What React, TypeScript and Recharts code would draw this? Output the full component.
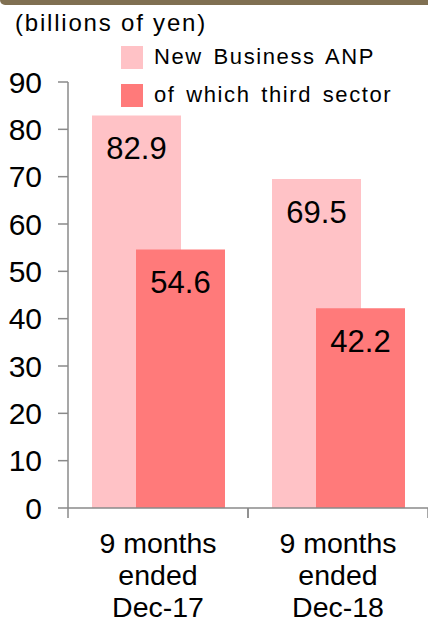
import { BarChart, Bar, XAxis, YAxis, Legend, LabelList } from 'recharts';

const periods = ['9 months\nended\nDec-17', '9 months\nended\nDec-18'];
const newBusinessAnp = [82.9, 69.5];
const thirdSector = [54.6, 42.2];
const yTicks = [0, 10, 20, 30, 40, 50, 60, 70, 80, 90];

const seriesNames = ['New Business ANP', 'of which third sector'];
const seriesColors = ['#ffc2c6', '#ff7a7a'];

const data = periods.map((period, i) => ({
  period,
  anp: newBusinessAnp[i],
  third: thirdSector[i],
}));

const FONT = '"Liberation Sans", Arial, sans-serif';
const AXIS = '#8a8a8a';

function CategoryTick(props: any) {
  const { x, y, payload } = props;
  const half = 90;
  const lines = String(payload.value).split('\n');
  return (
    <g>
      <line x1={x - half} y1={y - 8} x2={x - half} y2={y + 2} stroke={AXIS} strokeWidth={1.5} />
      <line x1={x + half} y1={y - 8} x2={x + half} y2={y + 2} stroke={AXIS} strokeWidth={1.5} />
      <text x={x} y={y} textAnchor="middle" fontSize={28.5} fontFamily={FONT} fill="#000">
        {lines.map((line, i) => (
          <tspan key={i} x={x} dy={i === 0 ? 37 : 32}>
            {line}
          </tspan>
        ))}
      </text>
    </g>
  );
}

function BarValue(props: any) {
  const { x, y, width, value } = props;
  return (
    <text
      x={x + width / 2}
      y={y + 33}
      textAnchor="middle"
      dominantBaseline="central"
      fontSize={31}
      fontFamily={FONT}
      fill="#000"
    >
      {Number(value).toFixed(1)}
    </text>
  );
}

function LegendBox() {
  return (
    <div style={{ fontFamily: FONT, fontSize: 22, letterSpacing: 1.6, wordSpacing: 3, color: '#000' }}>
      {seriesNames.map((name, i) => (
        <div key={name} style={{ display: 'flex', alignItems: 'center', height: 38 }}>
          <span
            style={{ width: 22, height: 23, background: seriesColors[i], marginRight: 11, display: 'inline-block' }}
          />
          <span>{name}</span>
        </div>
      ))}
    </div>
  );
}

export default function App() {
  return (
    <div style={{ position: 'absolute', left: 0, top: 0, width: 428, height: 618, background: '#fff' }}>
      <div
        style={{
          position: 'absolute',
          left: 0,
          top: 0,
          width: 428,
          height: 5,
          background: '#807052',
          borderBottomLeftRadius: 6,
        }}
      />
      <div
        style={{
          position: 'absolute',
          left: 15,
          top: 9,
          fontFamily: FONT,
          fontSize: 24,
          letterSpacing: 1.8,
          color: '#000',
          whiteSpace: 'nowrap',
        }}
      >
        (billions of yen)
      </div>
      <BarChart
        width={428}
        height={618}
        data={data}
        margin={{ top: 82, right: 0, bottom: 0, left: 0 }}
        barSize={89}
        barGap={-45}
      >
        <XAxis
          dataKey="period"
          height={110}
          axisLine={{ stroke: AXIS, strokeWidth: 1.5 }}
          tickLine={false}
          tick={<CategoryTick />}
          interval={0}
        />
        <YAxis
          width={68}
          domain={[0, 90]}
          ticks={yTicks}
          interval={0}
          axisLine={{ stroke: AXIS, strokeWidth: 1.5 }}
          tickLine={{ stroke: AXIS, strokeWidth: 1.5 }}
          tickSize={10}
          tickMargin={16}
          tick={{ fontSize: 30, fontFamily: FONT, fill: '#000' }}
        />
        <Legend
          layout="vertical"
          verticalAlign="middle"
          align="center"
          content={<LegendBox />}
          wrapperStyle={{ left: 121, top: 38, width: 300 }}
        />
        <Bar dataKey="anp" name={seriesNames[0]} fill={seriesColors[0]} isAnimationActive={false}>
          <LabelList dataKey="anp" content={<BarValue />} />
        </Bar>
        <Bar dataKey="third" name={seriesNames[1]} fill={seriesColors[1]} isAnimationActive={false}>
          <LabelList dataKey="third" content={<BarValue />} />
        </Bar>
      </BarChart>
    </div>
  );
}
